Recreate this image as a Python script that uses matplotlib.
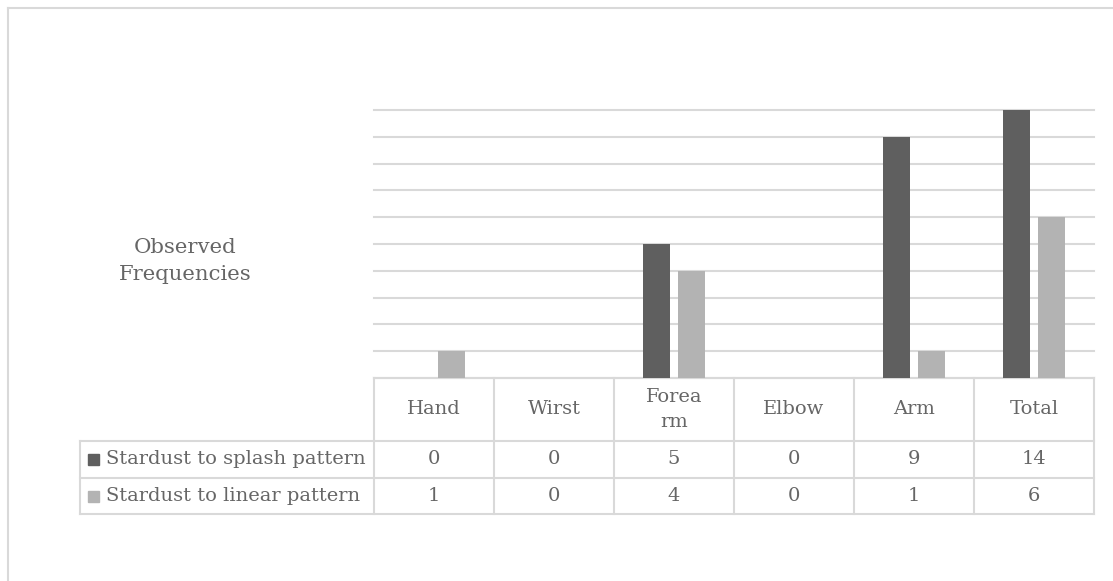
import matplotlib
matplotlib.use("Agg")
import matplotlib.pyplot as plt
from matplotlib.patches import Rectangle

# Data
categories = ["Hand", "Wirst", "Forea\nrm", "Elbow", "Arm", "Total"]
series_names = ["Stardust to splash pattern", "Stardust to linear pattern"]
splash = [0, 0, 5, 0, 9, 14]
linear = [1, 0, 4, 0, 1, 6]
y_max = 10

colors = ["#5f5f5f", "#b3b3b3"]
grid_color = "#d9d9d9"
text_color = "#666666"
font = ["DejaVu Serif"]

W, H = 1113, 581
fig = plt.figure(figsize=(W / 100, H / 100), dpi=100)
fig.patch.set_facecolor("white")

# Plot area in pixel coordinates
px_left, px_right, px_top, px_base = 374, 1094, 110, 378
ax = fig.add_axes([px_left / W, 1 - px_base / H, (px_right - px_left) / W, (px_base - px_top) / H])
n = len(categories)
xs = list(range(n))
bw = 0.225
off = 0.142
ax.bar([x - off for x in xs], splash, width=bw, color=colors[0], zorder=3)
ax.bar([x + off for x in xs], linear, width=bw, color=colors[1], zorder=3)
ax.set_xlim(-0.5, n - 0.5)
ax.set_ylim(0, y_max)
ax.set_yticks(range(0, y_max + 1))
ax.yaxis.grid(True, color=grid_color, linewidth=1.5, zorder=0)
for gl in ax.get_ygridlines():
    gl.set_clip_on(False)
ax.set_xticks([])
ax.tick_params(left=False, labelleft=False)
for s in ax.spines.values():
    s.set_visible(False)
ax.set_facecolor("none")

# Overlay in pixel coordinates for the data table and frame
ov = fig.add_axes([0, 0, 1, 1], zorder=-1)
ov.set_xlim(0, W)
ov.set_ylim(H, 0)
ov.axis("off")

lw = 1.5
# outer chart frame
ov.plot([8, W + 5], [8, 8], color=grid_color, lw=lw)
ov.plot([8, 8], [8, H + 5], color=grid_color, lw=lw)

col_w = (px_right - px_left) / n
table_left = 80
row_lines = [441, 478, 514]
for y in row_lines:
    ov.plot([table_left, px_right], [y, y], color=grid_color, lw=lw)
ov.plot([px_left, px_right], [px_base, px_base], color=grid_color, lw=lw)
for i in range(n + 1):
    x = px_left + i * col_w
    ov.plot([x, x], [px_base, row_lines[-1]], color=grid_color, lw=lw)
ov.plot([table_left, table_left], [row_lines[0], row_lines[-1]], color=grid_color, lw=lw)

fs = 14.0
header_cy = (px_base + row_lines[0]) / 2
for i, c in enumerate(categories):
    cx = px_left + (i + 0.5) * col_w
    ov.text(cx, header_cy, c, ha="center", va="center", fontsize=fs,
            color=text_color, family=font, linespacing=1.5)

for r, (name, vals) in enumerate(zip(series_names, [splash, linear])):
    cy = (row_lines[r] + row_lines[r + 1]) / 2
    ov.add_patch(Rectangle((88, cy - 5.5), 11, 11, color=colors[r]))
    ov.text(106, cy, name, ha="left", va="center", fontsize=fs,
            color=text_color, family=font)
    for i, v in enumerate(vals):
        cx = px_left + (i + 0.5) * col_w
        ov.text(cx, cy, str(v), ha="center", va="center", fontsize=fs,
                color=text_color, family=font)

# Axis title
ov.text(185, 261, "Observed\nFrequencies", ha="center", va="center", fontsize=15.3,
        color=text_color, family=font, linespacing=1.55)

fig.savefig("out.png", dpi=100, facecolor="white")
